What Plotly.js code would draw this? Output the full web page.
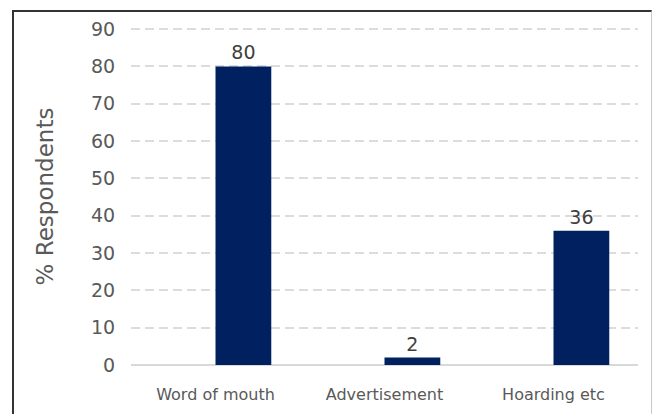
<!DOCTYPE html>
<html>
<head>
<meta charset="utf-8">
<script src="https://cdn.plot.ly/plotly-3.0.1.min.js"></script>
<style>
  html, body { margin: 0; padding: 0; background: #ffffff; }
  #wrap { position: relative; width: 652px; height: 414px; overflow: hidden; }
  #chart { position: absolute; left: 0; top: 0; width: 652px; height: 414px; }
  #frame { position: absolute; left: 12px; top: 10px; width: 637px; height: 500px;
           border-top: 2px solid #333333; border-left: 2px solid #333333;
           border-right: 1px solid #c8c8c8; pointer-events: none; }
</style>
</head>
<body>
<div id="wrap">
  <div id="chart"></div>
  <div id="frame"></div>
</div>
<script>
const categories = ["Word of mouth", "Advertisement", "Hoarding etc"];
const respondents = [80, 2, 36];
const yTickValues = [0, 10, 20, 30, 40, 50, 60, 70, 80, 90];
const yTitle = "% Respondents";

const trace = {
  type: "bar",
  x: categories,
  y: respondents,
  offset: 0,
  width: 0.33,
  marker: { color: "#002060" },
  text: respondents.map(String),
  textposition: "outside",
  textfont: { family: "DejaVu Sans", size: 19, color: "#404040" },
  cliponaxis: false,
  hoverinfo: "x+y"
};

const layout = {
  width: 652,
  height: 414,
  margin: { l: 131, r: 14, t: 28, b: 49 },
  paper_bgcolor: "#ffffff",
  plot_bgcolor: "#ffffff",
  showlegend: false,
  font: { family: "DejaVu Sans", color: "#595959" },
  xaxis: {
    type: "category",
    range: [-0.5, 2.5],
    showgrid: false,
    showline: false,
    zeroline: false,
    ticks: "outside",
    ticklen: 15,
    tickcolor: "rgba(0,0,0,0)",
    tickfont: { family: "DejaVu Sans", size: 16, color: "#595959" }
  },
  yaxis: {
    range: [0, 90.3],
    tickvals: yTickValues,
    showgrid: true,
    gridcolor: "#dcdcdc",
    gridwidth: 2,
    griddash: "9px,5px",
    zeroline: true,
    zerolinecolor: "#d9d9d9",
    zerolinewidth: 2,
    showline: false,
    ticks: "outside",
    ticklen: 11,
    tickcolor: "rgba(0,0,0,0)",
    tickfont: { family: "DejaVu Sans", size: 19, color: "#595959" },
    title: {
      text: yTitle,
      font: { family: "DejaVu Sans", size: 23, color: "#595959" },
      standoff: 30
    },
    automargin: false
  },
  bargap: 0.3
};

Plotly.newPlot("chart", [trace], layout, { staticPlot: true, displayModeBar: false });
</script>
</body>
</html>
